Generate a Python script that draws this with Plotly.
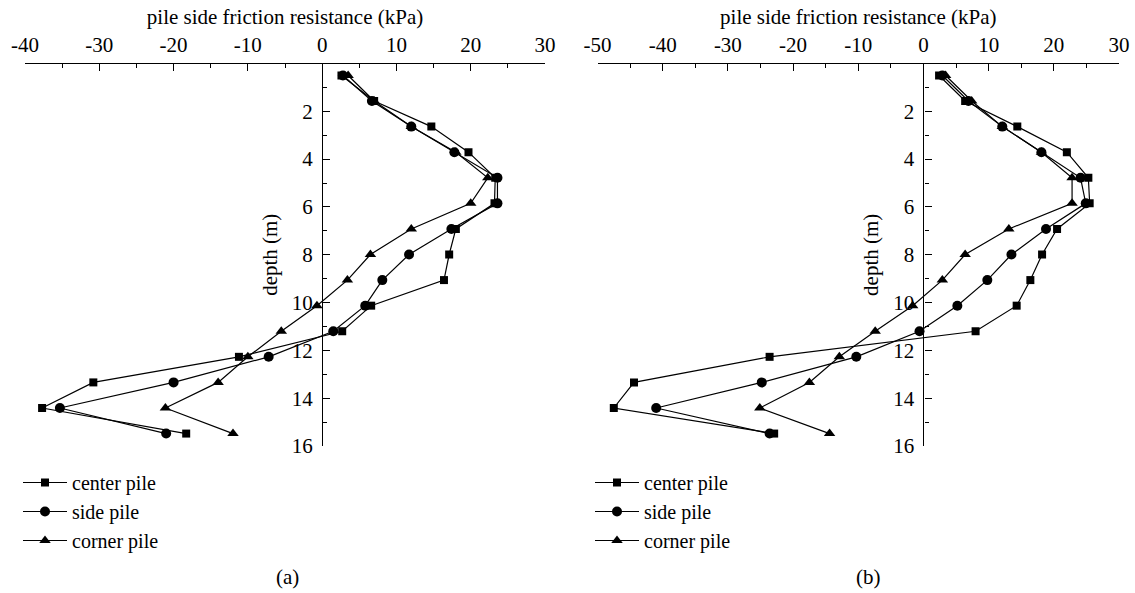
import plotly.graph_objects as go

# Depth of each measuring section along the pile (m)
depth = [0.5, 1.57, 2.64, 3.71, 4.78, 5.85, 6.92, 7.99, 9.06, 10.13,
         11.2, 12.27, 13.34, 14.41, 15.48]

# (a) pile side friction resistance (kPa)
a_center = [2.6, 7.0, 14.7, 19.7, 23.3, 23.2, 18.0, 17.1, 16.4, 6.6,
            2.7, -11.2, -30.8, -37.7, -18.3]
a_side = [2.8, 6.7, 12.0, 17.8, 23.6, 23.6, 17.4, 11.7, 8.1, 5.8,
          1.5, -7.2, -20.0, -35.3, -21.0]
a_corner = [3.5, 7.0, 12.0, 18.0, 22.3, 20.0, 12.0, 6.5, 3.4, -0.7,
            -5.5, -10.0, -14.0, -21.1, -12.0]

# (b) pile side friction resistance (kPa)
b_center = [2.4, 6.4, 14.4, 22.0, 25.3, 25.5, 20.5, 18.2, 16.4, 14.3,
            8.0, -23.6, -44.4, -47.5, -22.9]
b_side = [2.9, 6.9, 12.1, 18.1, 24.1, 24.9, 18.8, 13.5, 9.8, 5.2,
          -0.6, -10.3, -24.8, -41.0, -23.6]
b_corner = [3.4, 7.4, 12.1, 18.1, 22.8, 22.8, 13.1, 6.4, 2.9, -1.65,
            -7.4, -12.9, -17.5, -25.1, -14.4]

series_names = ["center pile", "side pile", "corner pile"]
x_ranges = [[-40, 30], [-50, 30]]
x_ticks = [[-40, -30, -20, -10, 0, 10, 20, 30],
           [-50, -40, -30, -20, -10, 0, 10, 20, 30]]
depth_ticks = [2, 4, 6, 8, 10, 12, 14, 16]
panel_labels = ["(a)", "(b)"]

W, H = 1135, 593
FONT = "Liberation Serif"
FS = 21

symbols = ["square", "circle", "triangle-up"]
sizes = [8, 10, 10]

# pixel layout of the two panels
x_dom_px = [(25, 545), (597.5, 1119)]
y_top_px, y_bot_px = 63.5, 446

fig = go.Figure()

panels = [(a_center, a_side, a_corner), (b_center, b_side, b_corner)]
for p, data in enumerate(panels):
    xa = "x" if p == 0 else "x2"
    ya = "y" if p == 0 else "y2"
    leg = "legend" if p == 0 else "legend2"
    for s, vals in enumerate(data):
        fig.add_trace(go.Scatter(
            x=vals, y=depth, name=series_names[s],
            mode="lines+markers",
            line=dict(color="black", width=1.2),
            marker=dict(symbol=symbols[s], size=sizes[s], color="black"),
            xaxis=xa, yaxis=ya, legend=leg,
        ))

ydom = [1 - y_bot_px / H, 1 - y_top_px / H]

def xaxis_cfg(p):
    lo, hi = x_dom_px[p]
    return dict(
        domain=[lo / W, hi / W], range=x_ranges[p], side="top",
        anchor="y" if p == 0 else "y2", automargin=False,
        showline=True, linecolor="black", linewidth=1.2,
        showgrid=False, zeroline=False,
        ticks="inside", ticklen=7, tickwidth=1.2, tickcolor="black",
        tickvals=x_ticks[p], ticktext=[str(v) for v in x_ticks[p]],
        minor=dict(ticks="inside", ticklen=4, dtick=5, tick0=0, tickwidth=1.2,
                   tickcolor="black", showgrid=False),
        tickfont=dict(family=FONT, size=FS, color="black"),
        ticklabelstandoff=2,
        title=dict(text="pile side friction resistance (kPa)",
                   font=dict(family=FONT, size=FS, color="black"),
                   standoff=2),
    )

def yaxis_cfg(p):
    lo, hi = x_dom_px[p]
    xr = x_ranges[p]
    zero_px = lo + (0 - xr[0]) / (xr[1] - xr[0]) * (hi - lo)
    return dict(
        domain=ydom, range=[16, 0], anchor="free", position=zero_px / W,
        automargin=False,
        showline=True, linecolor="black", linewidth=1.2,
        showgrid=False, zeroline=False,
        ticks="inside", ticklen=7, tickwidth=1.2, tickcolor="black",
        tickvals=depth_ticks,
        minor=dict(ticks="inside", ticklen=4, tickvals=[1, 3, 5, 7, 9, 11, 13, 15],
                   tickwidth=1.2, tickcolor="black", showgrid=False),
        tickfont=dict(family=FONT, size=FS, color="black"),
        ticklabelstandoff=5,
        title=dict(text="depth (m)",
                   font=dict(family=FONT, size=FS, color="black"),
                   standoff=7),
    )

legend_common = dict(
    xanchor="left", yanchor="top", bgcolor="rgba(0,0,0,0)",
    font=dict(family=FONT, size=20, color="black"),
    itemwidth=44, tracegroupgap=0,
)

fig.update_layout(
    width=W, height=H,
    margin=dict(l=0, r=0, t=0, b=0, autoexpand=False),
    paper_bgcolor="white", plot_bgcolor="white",
    xaxis=xaxis_cfg(0), yaxis=yaxis_cfg(0),
    xaxis2=xaxis_cfg(1), yaxis2=yaxis_cfg(1),
    legend=dict(x=18 / W, y=1 - 463 / H, **legend_common),
    legend2=dict(x=590 / W, y=1 - 463 / H, **legend_common),
    showlegend=True,
)

label_x = [287, 868]
for p in range(2):
    fig.add_annotation(
        text=panel_labels[p], x=label_x[p] / W, y=1 - 577 / H,
        xref="paper", yref="paper", showarrow=False,
        xanchor="center", yanchor="middle",
        font=dict(family=FONT, size=FS, color="black"),
    )

fig.write_html("out.html")
